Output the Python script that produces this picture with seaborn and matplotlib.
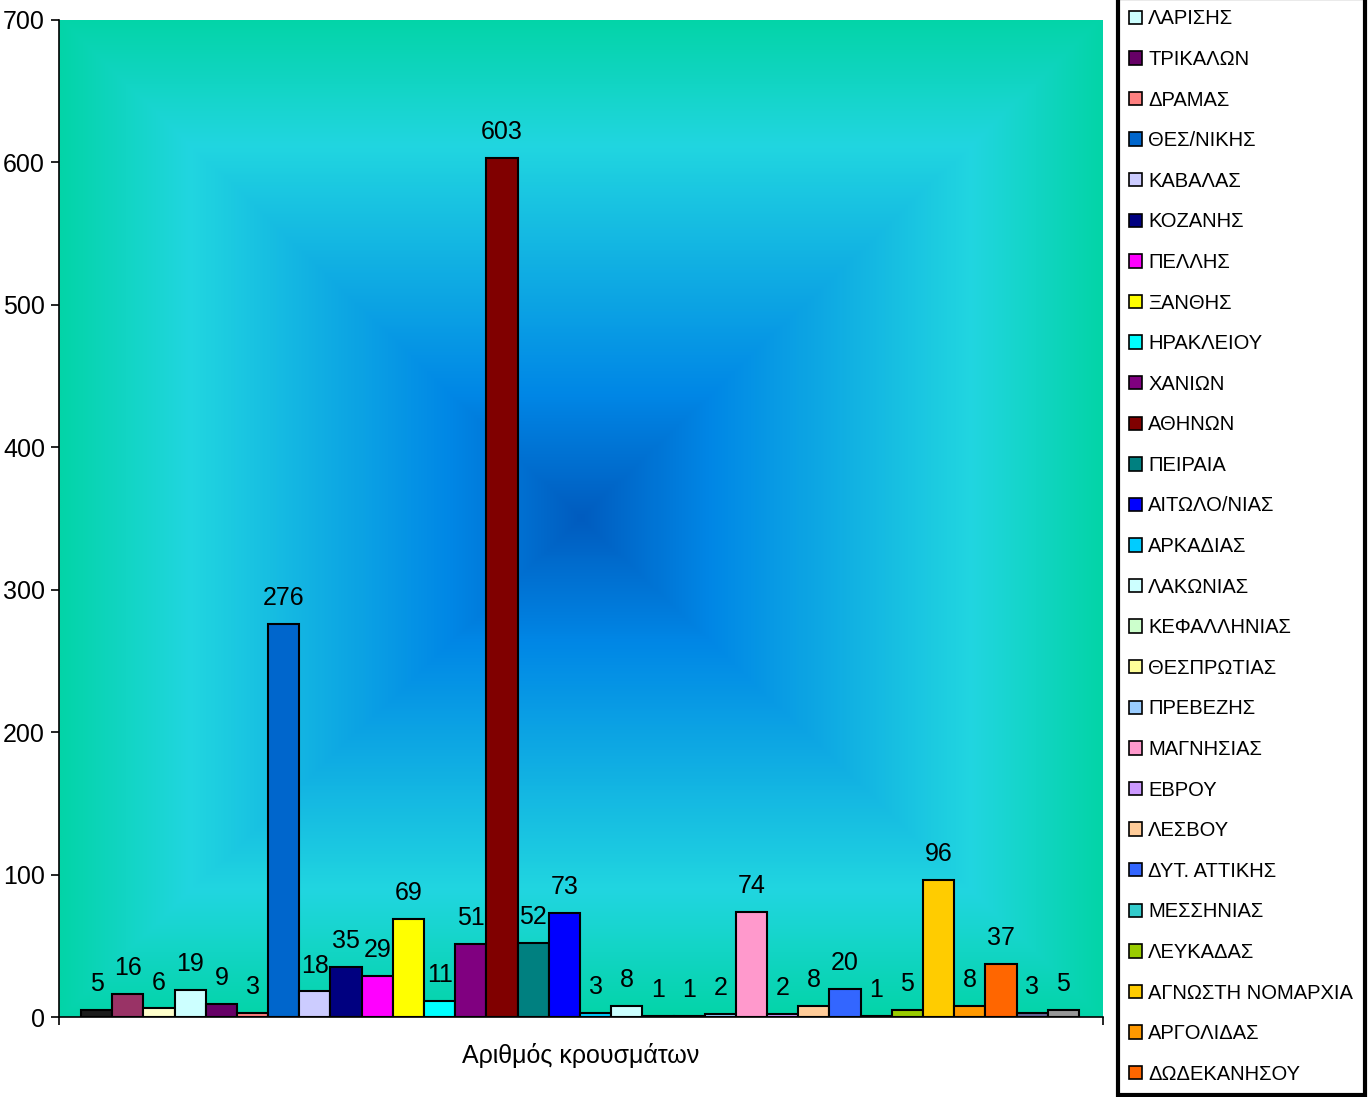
import numpy as np
import pandas as pd
import matplotlib
matplotlib.use("Agg")
import matplotlib.pyplot as plt
import matplotlib.patches as mpatches
from matplotlib.colors import LinearSegmentedColormap
import seaborn as sns

# νομοί - οι 3 πρώτοι και οι 2 τελευταίοι δεν χωράνε στο υπόμνημα
nomoi = [None, None, None,
         "ΛΑΡΙΣΗΣ", "ΤΡΙΚΑΛΩΝ", "ΔΡΑΜΑΣ", "ΘΕΣ/ΝΙΚΗΣ", "ΚΑΒΑΛΑΣ", "ΚΟΖΑΝΗΣ",
         "ΠΕΛΛΗΣ", "ΞΑΝΘΗΣ", "ΗΡΑΚΛΕΙΟΥ", "ΧΑΝΙΩΝ", "ΑΘΗΝΩΝ", "ΠΕΙΡΑΙΑ",
         "ΑΙΤΩΛΟ/ΝΙΑΣ", "ΑΡΚΑΔΙΑΣ", "ΛΑΚΩΝΙΑΣ", "ΚΕΦΑΛΛΗΝΙΑΣ", "ΘΕΣΠΡΩΤΙΑΣ",
         "ΠΡΕΒΕΖΗΣ", "ΜΑΓΝΗΣΙΑΣ", "ΕΒΡΟΥ", "ΛΕΣΒΟΥ", "ΔΥΤ. ΑΤΤΙΚΗΣ",
         "ΜΕΣΣΗΝΙΑΣ", "ΛΕΥΚΑΔΑΣ", "ΑΓΝΩΣΤΗ ΝΟΜΑΡΧΙΑ", "ΑΡΓΟΛΙΔΑΣ",
         "ΔΩΔΕΚΑΝΗΣΟΥ", None, None]
kroysmata = [5, 16, 6, 19, 9, 3, 276, 18, 35, 29, 69, 11, 51, 603, 52, 73,
             3, 8, 1, 1, 2, 74, 2, 8, 20, 1, 5, 96, 8, 37, 3, 5]
xromata = ["#1c1c1c", "#993366", "#FFFFCC", "#CCFFFF", "#660066", "#FF8080",
           "#0066CC", "#CCCCFF", "#000080", "#FF00FF", "#FFFF00", "#00FFFF",
           "#800080", "#800000", "#008080", "#0000FF", "#00CCFF", "#CCFFFF",
           "#CCFFCC", "#FFFF99", "#99CCFF", "#FF99CC", "#CC99FF", "#FFCC99",
           "#3366FF", "#33CCCC", "#99CC00", "#FFCC00", "#FF9900", "#FF6600",
           "#666699", "#969696"]
y_ticks = [0, 100, 200, 300, 400, 500, 600, 700]
x_title = "Αριθμός κρουσμάτων"

df = pd.DataFrame({"id": [str(i) for i in range(len(kroysmata))], "count": kroysmata})

sns.set_theme(style="white", rc={"text.color": "black", "axes.labelcolor": "black",
                                 "xtick.color": "black", "ytick.color": "black"})
plt.rcParams["font.family"] = ["Liberation Sans", "DejaVu Sans"]

fig = plt.figure(figsize=(13.72, 10.97), dpi=100)
ax = fig.add_axes([0.0430, 0.0729, 0.7609, 0.9089])

sns.barplot(data=df, x="id", y="count", hue="id", palette=xromata, width=1,
            saturation=1, edgecolor="black", linewidth=1.5, legend=False, ax=ax)

# φόντο: διαβάθμιση "ocean" από το κέντρο
ocean = LinearSegmentedColormap.from_list(
    "ocean", [(0, "#005CBF"), (0.25, "#0087E6"), (0.75, "#21D6E0"), (1, "#03D4A8")])
yy, xx = np.mgrid[-1:1:500j, -1:1:520j]
grad = np.maximum(np.abs(xx), np.abs(yy))
ax.imshow(grad, cmap=ocean, vmin=0, vmax=1, extent=[0, 1, 0, 1], transform=ax.transAxes,
          aspect="auto", interpolation="bilinear", zorder=0)

for cont in ax.containers:
    ax.bar_label(cont, padding=10, fontsize=18, color="black")

ax.set_xlim(-1.205, 32.27)
ax.set_ylim(0, 700)
ax.set_yticks(y_ticks)
ax.set_xticks([-1.205, 32.27], labels=["", ""])
ax.tick_params(axis="both", direction="out", length=6, width=1.2, color="black",
               labelsize=18, pad=4, left=True, bottom=True)
for s in ["top", "right"]:
    ax.spines[s].set_visible(False)
for s in ["left", "bottom"]:
    ax.spines[s].set_color("black")
    ax.spines[s].set_linewidth(1.2)
ax.set_xlabel(x_title, fontsize=18, labelpad=9)
ax.set_ylabel("")

handles = [mpatches.Patch(facecolor=c, edgecolor="black", linewidth=1.2, label=n)
           for n, c in zip(nomoi, xromata) if n]
leg = fig.legend(handles=handles, loc="lower left",
                 bbox_to_anchor=(1118 / 1372, 2 / 1097, 247 / 1372, 0), mode="expand",
                 fontsize=14.5, handlelength=0.645, handleheight=0.645, handletextpad=0.29,
                 labelspacing=1.072, borderpad=0.56, borderaxespad=0,
                 fancybox=False, edgecolor="black", framealpha=1)
leg.get_frame().set_linewidth(3)

fig.savefig("out.png", dpi=100)
